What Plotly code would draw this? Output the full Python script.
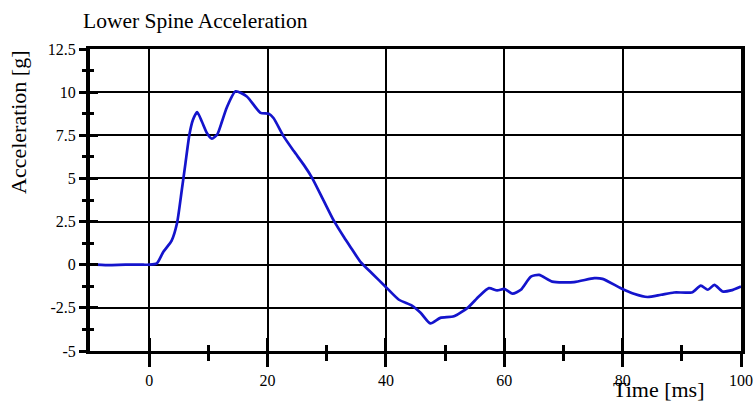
import plotly.graph_objects as go

time_ms = [-10, -7, -4, -1, 0, 1.3, 2.4, 3.8, 4.7, 5.5, 6.1, 6.8, 7.4, 8.1, 8.9, 9.8,
           10.6, 11.5, 12.3, 13.1, 14.6, 16.5, 18.8, 20.2, 21.0, 22.7, 24.4, 26.1,
           27.5, 29.5, 31.2, 32.9, 34.0, 35.7, 37.8, 39.9, 42.2, 44.4, 45.9, 47.5,
           49.2, 51.5, 53.8, 55.7, 57.4, 58.8, 60.0, 61.4, 62.8, 64.5, 65.9, 68.1,
           71.8, 75.2, 76.6, 79.7, 81.9, 84.2, 86.5, 88.7, 91.8, 93.2, 94.4, 95.5,
           96.9, 98.3, 100]
accel_g = [0.02, -0.02, 0.0, 0.0, 0.0, 0.08, 0.75, 1.4, 2.4, 4.3, 5.8, 7.55, 8.4, 8.85,
           8.3, 7.6, 7.3, 7.55, 8.3, 9.1, 10.05, 9.75, 8.8, 8.75, 8.5, 7.45, 6.6, 5.8,
           5.05, 3.7, 2.55, 1.6, 1.03, 0.17, -0.55, -1.26, -2.03, -2.37, -2.8, -3.4,
           -3.08, -2.99, -2.5, -1.84, -1.36, -1.49, -1.4, -1.68, -1.45, -0.69, -0.59,
           -0.98, -1.01, -0.78, -0.82, -1.36, -1.68, -1.87, -1.74, -1.61, -1.59, -1.21,
           -1.45, -1.17, -1.55, -1.49, -1.26]

x_major = [0, 20, 40, 60, 80, 100]
x_minor = [10, 30, 50, 70, 90]
y_major = [-5, -2.5, 0, 2.5, 5, 7.5, 10, 12.5]
y_major_text = ["-5", "-2.5", "0", "2.5", "5", "7.5", "10", "12.5"]
y_minor = [-3.75, -1.25, 1.25, 3.75, 6.25, 8.75, 11.25]

title_text = "Lower Spine Acceleration"
x_title = "Time [ms]"
y_title = "Acceleration [g]"

SERIF = "Liberation Serif"
W, H = 755, 404
PL, PR, PT, PB = 90, 741, 49, 351
PW, PH = PR - PL, PB - PT

fig = go.Figure()
fig.add_trace(go.Scatter(x=time_ms, y=accel_g, mode="lines",
                         line=dict(color="#1414cc", width=2.7, shape="spline", smoothing=0.6),
                         showlegend=False, hoverinfo="skip"))
# invisible trace on overlay axes so they render
fig.add_trace(go.Scatter(x=[-10], y=[-5], xaxis="x2", yaxis="y2", mode="markers",
                         marker=dict(opacity=0), showlegend=False, hoverinfo="skip"))

fig.update_layout(
    width=W, height=H,
    margin=dict(l=PL, r=W - PR, t=PT, b=H - PB, autoexpand=False),
    paper_bgcolor="white", plot_bgcolor="white",
    font=dict(family=SERIF, color="black", size=16),
    title=dict(text=title_text, x=83 / W, xanchor="left", xref="container",
               y=1 - 20 / H, yanchor="middle", yref="container", automargin=False,
               font=dict(family=SERIF, size=21.5, color="black")),
    xaxis=dict(range=[-10, 100], tickmode="array", tickvals=x_major, automargin=False,
               ticks="outside", ticklen=13, tickwidth=3, tickcolor="black",
               showline=True, linewidth=3, linecolor="black", mirror=True,
               showgrid=True, gridcolor="black", gridwidth=1.5,
               zeroline=False,
               minor=dict(tickmode="array", tickvals=x_minor, ticks="outside",
                          ticklen=7, tickwidth=3, tickcolor="black", showgrid=False),
               tickfont=dict(family=SERIF, size=16, color="black")),
    yaxis=dict(range=[-5, 12.5], tickmode="array", tickvals=y_major, ticktext=y_major_text,
               automargin=False,
               ticks="outside", ticklen=7, tickwidth=3, tickcolor="black",
               showline=True, linewidth=4, linecolor="black", mirror=True,
               showgrid=True, gridcolor="black", gridwidth=2,
               zeroline=False,
               minor=dict(tickmode="array", tickvals=y_minor, ticks="outside",
                          ticklen=4, tickwidth=3, tickcolor="black", showgrid=False),
               tickfont=dict(family=SERIF, size=16, color="black")),
    xaxis2=dict(range=[-10, 100], overlaying="x", anchor="y2", side="bottom", automargin=False,
                tickmode="array", tickvals=x_major, ticks="inside", ticklen=13,
                tickwidth=3, tickcolor="black", showticklabels=False, showgrid=False,
                zeroline=False, showline=False,
                minor=dict(tickmode="array", tickvals=x_minor, ticks="inside",
                           ticklen=6, tickwidth=3, tickcolor="black", showgrid=False)),
    yaxis2=dict(range=[-5, 12.5], overlaying="y", anchor="x2", side="left", automargin=False,
                tickmode="array", tickvals=y_major, ticks="inside", ticklen=8,
                tickwidth=3, tickcolor="black", showticklabels=False, showgrid=False,
                zeroline=False, showline=False,
                minor=dict(tickmode="array", tickvals=y_minor, ticks="inside",
                           ticklen=4, tickwidth=3, tickcolor="black", showgrid=False)),
    annotations=[
        dict(text=y_title, xref="paper", yref="paper", x=(18 - PL) / PW, y=(PB - 122) / PH,
             textangle=-90, showarrow=False, xanchor="center", yanchor="middle",
             font=dict(family=SERIF, size=22, color="black")),
        dict(text=x_title, xref="paper", yref="paper", x=(658 - PL) / PW, y=(PB - 390) / PH,
             showarrow=False, xanchor="center", yanchor="middle",
             font=dict(family=SERIF, size=22, color="black")),
    ],
)

fig.write_html("out.html",
               config={"displayModeBar": False},
               post_script="document.body.style.margin='0px';document.body.style.overflow='hidden';")
